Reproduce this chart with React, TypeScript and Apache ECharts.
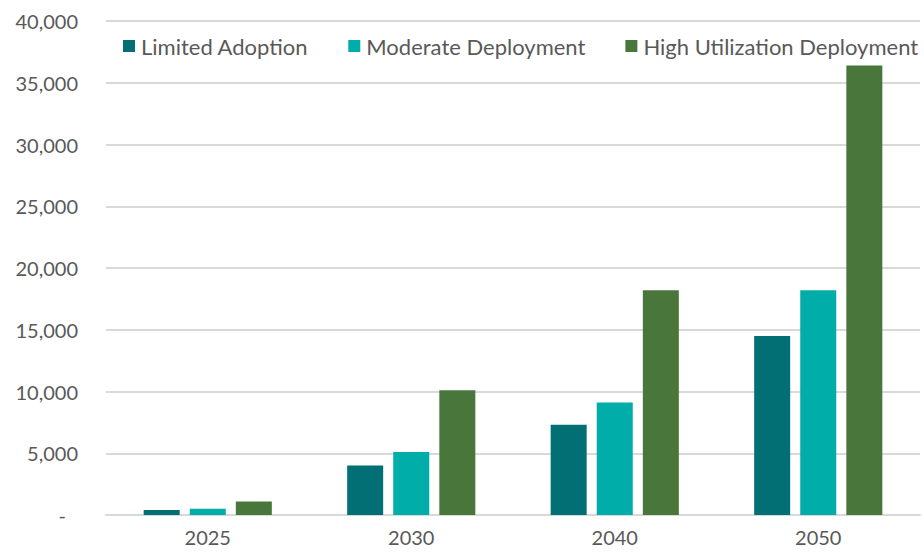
import React, { useEffect, useRef } from "react";
import * as echarts from "echarts";

const categories = ["2025", "2030", "2040", "2050"];
const limitedAdoption = [400, 4000, 7300, 14500];
const moderateDeployment = [500, 5100, 9100, 18200];
const highUtilization = [1100, 10100, 18200, 36400];
const seriesNames = ["Limited Adoption", "Moderate Deployment", "High Utilization Deployment"];
const colors = ["#016F74", "#00ADA8", "#48763B"];

const FONT = "Lato";
const TEXT = "#595959";

export default function App() {
  const ref = useRef<HTMLDivElement>(null);
  useEffect(() => {
    document.body.style.margin = "0";
    const chart = echarts.init(ref.current!, null, { renderer: "svg" });
    const dataSets = [limitedAdoption, moderateDeployment, highUtilization];
    chart.setOption({
      animation: false,
      textStyle: { fontFamily: FONT },
      legend: {
        left: 123,
        top: 35,
        padding: 0,
        itemWidth: 12,
        itemHeight: 12,
        itemGap: 40,
        icon: "rect",
        textStyle: { fontFamily: FONT, fontSize: 22, color: TEXT, padding: [0, 0, 0, 1] },
        data: seriesNames,
      },
      grid: { left: 106, right: 4, top: 21, bottom: 41, containLabel: false },
      xAxis: {
        type: "category",
        data: categories,
        axisTick: { show: false },
        axisLine: { lineStyle: { color: "#D9D9D9", width: 2 } },
        axisLabel: { fontFamily: FONT, fontSize: 20, color: TEXT, margin: 12 },
      },
      yAxis: {
        type: "value",
        min: 0,
        max: 40000,
        interval: 5000,
        axisLine: { show: false },
        axisTick: { show: false },
        splitLine: { lineStyle: { color: "#D9D9D9", width: 2 } },
        axisLabel: {
          fontFamily: FONT,
          fontSize: 20,
          color: TEXT,
          margin: 28,
          formatter: (v: number) => (v === 0 ? "{z|-}" : v.toLocaleString("en-US")),
          rich: { z: { fontFamily: FONT, fontSize: 20, color: TEXT, padding: [0, 12, 0, 0] } },
        },
      },
      series: seriesNames.map((name, i) => ({
        name,
        type: "bar",
        data: dataSets[i],
        barWidth: 36,
        barGap: "28%",
        itemStyle: { color: colors[i] },
      })),
    });
    return () => chart.dispose();
  }, []);
  return <div ref={ref} style={{ width: 924, height: 556 }} />;
}
